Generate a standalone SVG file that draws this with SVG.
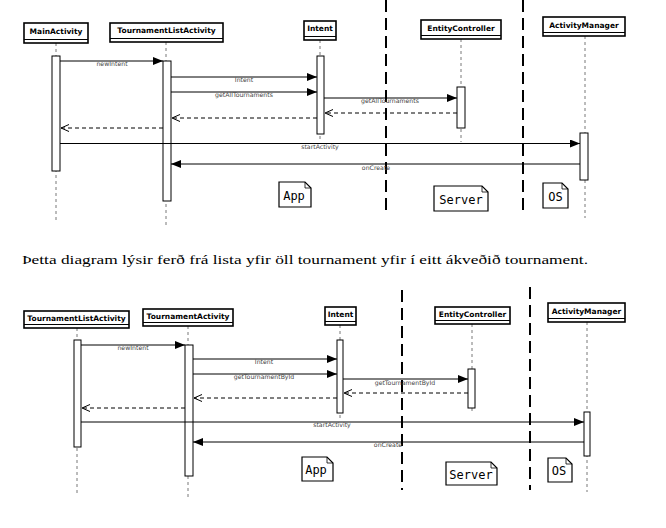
<svg xmlns="http://www.w3.org/2000/svg" width="666" height="528" viewBox="0 0 666 528">
<style>
.box{fill:#fff;stroke:#000;stroke-width:1.6}
.ptxt{font-family:"DejaVu Sans",sans-serif;font-weight:bold;font-size:7.5px;fill:#000;text-anchor:middle}
.life{stroke:#555;stroke-width:0.8;stroke-dasharray:3,3;fill:none}
.act{fill:#fff;stroke:#000;stroke-width:1}
.msg{stroke:#000;stroke-width:1;fill:none}
.ret{stroke:#000;stroke-width:1;fill:none;stroke-dasharray:4,3}
.sep{stroke:#000;stroke-width:2;stroke-dasharray:12,6;fill:none}
.mtxt{font-family:"DejaVu Sans",sans-serif;font-size:6.2px;fill:#444;text-anchor:middle}
.note{fill:#fff;stroke:#000;stroke-width:1.2}
.ntxt{font-family:"DejaVu Sans Mono",monospace;font-size:12px;fill:#000;text-anchor:middle}
.cap{font-family:"Liberation Serif","DejaVu Serif",serif;font-size:13px;fill:#000}
</style>
<defs>
<marker id="sync" viewBox="0 0 10 8" refX="10" refY="4" markerWidth="10" markerHeight="8" markerUnits="userSpaceOnUse" orient="auto"><path d="M0,0 L10,4 L0,8 z" fill="#000"/></marker>
<marker id="open" viewBox="0 0 10 8" refX="9" refY="4" markerWidth="10" markerHeight="8" markerUnits="userSpaceOnUse" orient="auto"><path d="M1,0.5 L9,4 L1,7.5" fill="none" stroke="#000" stroke-width="1"/></marker>
</defs>
<rect width="666" height="528" fill="#fff"/>

<!-- ===== Top diagram ===== -->
<g id="top-separators">
<line class="sep" x1="386" y1="0" x2="386" y2="215"/>
<line class="sep" x1="523" y1="0" x2="523" y2="215"/>
</g>
<g id="t-MainActivity">
<line class="life" x1="56" y1="43" x2="56" y2="222"/>
<rect class="box" x="24" y="23" width="64" height="20"/>
<line stroke="#000" stroke-width="1" x1="24" y1="39.5" x2="88" y2="39.5"/>
<text class="ptxt" x="56" y="34">MainActivity</text>
<rect class="act" x="52" y="56" width="8" height="115"/>
</g>
<g id="t-TournamentListActivity">
<line class="life" x1="166" y1="42" x2="166" y2="228"/>
<rect class="box" x="110" y="23" width="113" height="19"/>
<line stroke="#000" stroke-width="1" x1="110" y1="38.5" x2="223" y2="38.5"/>
<text class="ptxt" x="166.5" y="33">TournamentListActivity</text>
<rect class="act" x="163" y="61" width="8" height="140"/>
</g>
<g id="t-Intent">
<line class="life" x1="320" y1="40" x2="320" y2="140"/>
<rect class="box" x="304" y="21" width="32" height="19"/>
<line stroke="#000" stroke-width="1" x1="304" y1="36.5" x2="336" y2="36.5"/>
<text class="ptxt" x="320" y="31">Intent</text>
<rect class="act" x="317" y="56" width="7" height="78"/>
</g>
<g id="t-EntityController">
<line class="life" x1="461" y1="39" x2="461" y2="142"/>
<rect class="box" x="421" y="20" width="80" height="19"/>
<line stroke="#000" stroke-width="1" x1="421" y1="35.5" x2="501" y2="35.5"/>
<text class="ptxt" x="461" y="30.5">EntityController</text>
<rect class="act" x="457" y="87" width="8" height="41"/>
</g>
<g id="t-ActivityManager">
<line class="life" x1="585" y1="36" x2="585" y2="218"/>
<rect class="box" x="543" y="17" width="82" height="19"/>
<line stroke="#000" stroke-width="1" x1="543" y1="32.5" x2="625" y2="32.5"/>
<text class="ptxt" x="584" y="27.5">ActivityManager</text>
<rect class="act" x="580" y="133" width="8" height="47"/>
</g>
<g id="top-connectors">
<line class="msg" x1="60" y1="61" x2="163" y2="61" marker-end="url(#sync)"/>
<text class="mtxt" x="112" y="66">newIntent</text>
<line class="msg" x1="171" y1="77" x2="317" y2="77" marker-end="url(#sync)"/>
<text class="mtxt" x="244" y="81.5">Intent</text>
<line class="msg" x1="171" y1="92" x2="317" y2="92" marker-end="url(#sync)"/>
<text class="mtxt" x="244" y="97">getAllTournaments</text>
<line class="msg" x1="324" y1="98" x2="457" y2="98" marker-end="url(#sync)"/>
<text class="mtxt" x="390" y="103">getAllTournaments</text>
<line class="ret" x1="457" y1="113" x2="325" y2="113" marker-end="url(#open)"/>
<line class="ret" x1="317" y1="118" x2="172" y2="118" marker-end="url(#open)"/>
<line class="ret" x1="163" y1="128" x2="61" y2="128" marker-end="url(#open)"/>
<line class="msg" x1="60" y1="143.5" x2="580" y2="143.5" marker-end="url(#sync)"/>
<text class="mtxt" x="320" y="149">startActivity</text>
<line class="msg" x1="580" y1="164" x2="171" y2="164" marker-end="url(#sync)"/>
<text class="mtxt" x="376" y="169.5">onCreate</text>
</g>
<g id="t-note-App">
<path class="note" d="M279,182 H305 L311,188 V207 H279 Z"/>
<path d="M305,182 V188 H311" fill="none" stroke="#000" stroke-width="0.8"/>
<text class="ntxt" x="294" y="200">App</text>
</g>
<g id="t-note-Server">
<path class="note" d="M434,186 H482 L488,192 V211 H434 Z"/>
<path d="M482,186 V192 H488" fill="none" stroke="#000" stroke-width="0.8"/>
<text class="ntxt" x="461" y="204">Server</text>
</g>
<g id="t-note-OS">
<path class="note" d="M543,183 H562 L568,189 V208 H543 Z"/>
<path d="M562,183 V189 H568" fill="none" stroke="#000" stroke-width="0.8"/>
<text class="ntxt" x="555.5" y="201">OS</text>
</g>

<!-- ===== Caption ===== -->
<text class="cap" x="22" y="264" textLength="566" lengthAdjust="spacingAndGlyphs">Þetta diagram lýsir ferð frá lista yfir öll tournament yfir í eitt ákveðið tournament.</text>

<!-- ===== Bottom diagram ===== -->
<g id="bottom-separators">
<line class="sep" x1="402" y1="290" x2="402" y2="490"/>
<line class="sep" x1="530" y1="287" x2="530" y2="490"/>
</g>
<g id="b-TournamentListActivity">
<line class="life" x1="77" y1="328" x2="77" y2="495"/>
<rect class="box" x="24" y="311" width="105" height="17"/>
<line stroke="#000" stroke-width="1" x1="24" y1="324.5" x2="129" y2="324.5"/>
<text class="ptxt" x="76.5" y="320.5">TournamentListActivity</text>
<rect class="act" x="74" y="340" width="7" height="107"/>
</g>
<g id="b-TournamentActivity">
<line class="life" x1="188" y1="326" x2="188" y2="500"/>
<rect class="box" x="143" y="309" width="90" height="17"/>
<line stroke="#000" stroke-width="1" x1="143" y1="322.5" x2="233" y2="322.5"/>
<text class="ptxt" x="188" y="318.5">TournamentActivity</text>
<rect class="act" x="185" y="345" width="8" height="131"/>
</g>
<g id="b-Intent">
<line class="life" x1="340" y1="325" x2="340" y2="418"/>
<rect class="box" x="325" y="307" width="31" height="18"/>
<line stroke="#000" stroke-width="1" x1="325" y1="321.5" x2="356" y2="321.5"/>
<text class="ptxt" x="340.5" y="317">Intent</text>
<rect class="act" x="337" y="340" width="6" height="73"/>
</g>
<g id="b-EntityController">
<line class="life" x1="472" y1="324" x2="472" y2="412"/>
<rect class="box" x="435" y="307" width="75" height="17"/>
<line stroke="#000" stroke-width="1" x1="435" y1="320.5" x2="510" y2="320.5"/>
<text class="ptxt" x="472.5" y="316.5">EntityController</text>
<rect class="act" x="468" y="369" width="7" height="39"/>
</g>
<g id="b-ActivityManager">
<line class="life" x1="587" y1="322" x2="587" y2="492"/>
<rect class="box" x="548" y="303" width="77" height="19"/>
<line stroke="#000" stroke-width="1" x1="548" y1="318.5" x2="625" y2="318.5"/>
<text class="ptxt" x="586.5" y="313.5">ActivityManager</text>
<rect class="act" x="584" y="412" width="6" height="44"/>
</g>
<g id="bottom-connectors">
<line class="msg" x1="81" y1="345" x2="185" y2="345" marker-end="url(#sync)"/>
<text class="mtxt" x="133" y="350">newIntent</text>
<line class="msg" x1="193" y1="359" x2="337" y2="359" marker-end="url(#sync)"/>
<text class="mtxt" x="264" y="364">Intent</text>
<line class="msg" x1="193" y1="374" x2="337" y2="374" marker-end="url(#sync)"/>
<text class="mtxt" x="264" y="379">getTournamentById</text>
<line class="msg" x1="343" y1="379" x2="468" y2="379" marker-end="url(#sync)"/>
<text class="mtxt" x="405" y="384.5">getTournamentById</text>
<line class="ret" x1="468" y1="393" x2="344" y2="393" marker-end="url(#open)"/>
<line class="ret" x1="337" y1="398" x2="194" y2="398" marker-end="url(#open)"/>
<line class="ret" x1="185" y1="408" x2="82" y2="408" marker-end="url(#open)"/>
<line class="msg" x1="81" y1="422" x2="584" y2="422" marker-end="url(#sync)"/>
<text class="mtxt" x="332" y="427">startActivity</text>
<line class="msg" x1="584" y1="442" x2="193" y2="442" marker-end="url(#sync)"/>
<text class="mtxt" x="388" y="447">onCreate</text>
</g>
<g id="b-note-App">
<path class="note" d="M302,457 H327 L333,463 V481 H302 Z"/>
<path d="M327,457 V463 H333" fill="none" stroke="#000" stroke-width="0.8"/>
<text class="ntxt" x="316" y="474">App</text>
</g>
<g id="b-note-Server">
<path class="note" d="M446,462 H491 L497,468 V485 H446 Z"/>
<path d="M491,462 V468 H497" fill="none" stroke="#000" stroke-width="0.8"/>
<text class="ntxt" x="471" y="479">Server</text>
</g>
<g id="b-note-OS">
<path class="note" d="M548,458 H566 L572,464 V482 H548 Z"/>
<path d="M566,458 V464 H572" fill="none" stroke="#000" stroke-width="0.8"/>
<text class="ntxt" x="559" y="475">OS</text>
</g>
</svg>
